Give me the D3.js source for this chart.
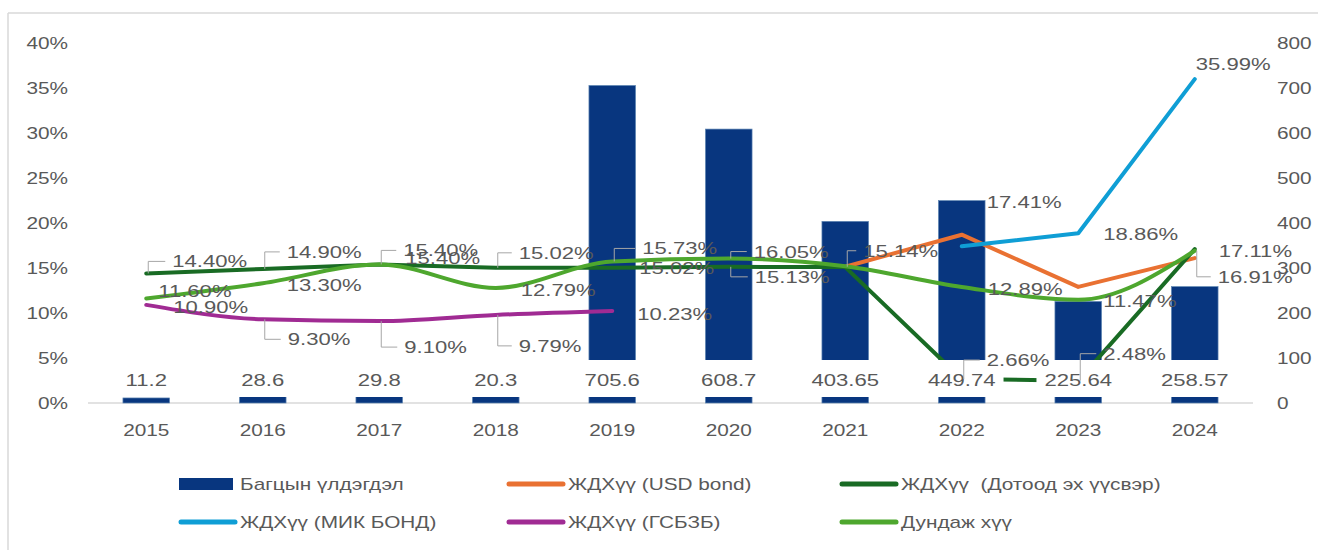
<!DOCTYPE html>
<html>
<head>
<meta charset="utf-8">
<script src="https://d3js.org/d3.v7.min.js"></script>
<style>
body { margin: 0; background: #fff; font-family: 'Liberation Sans', Arial, sans-serif; }
svg { display: block; }
svg text { white-space: pre; }
</style>
</head>
<body>
<div id="chart"></div>
<script>

// ---- data ----
var years = ["2015", "2016", "2017", "2018", "2019", "2020", "2021", "2022", "2023", "2024"];
var balance = [11.2, 28.6, 29.8, 20.3, 705.6, 608.7, 403.65, 449.74, 225.64, 258.57];
var rateUsd = [null, null, null, null, null, null, 15.14, 18.70, 12.90, 16.10];
var rateDomestic = [14.40, 14.90, 15.40, 15.02, 15.02, 15.13, 15.10, 2.66, 2.48, 17.11];
var rateMik = [null, null, null, null, null, null, null, 17.41, 18.86, 35.99];
var rateGsbzb = [10.90, 9.30, 9.10, 9.79, 10.23, null, null, null, null, null];
var rateAvg = [11.60, 13.30, 15.40, 12.79, 15.73, 16.05, 15.20, 12.89, 11.47, 16.91];
var pctTicks = [0, 5, 10, 15, 20, 25, 30, 35, 40];
var balTicks = [0, 100, 200, 300, 400, 500, 600, 700, 800];

var barName = "Багцын үлдэгдэл";
var lineSeries = [
  { key: "usd", name: "ЖДХүү (USD bond)", values: rateUsd, color: "#E97132", smooth: false },
  { key: "dom", name: "ЖДХүү  (Дотоод эх үүсвэр)", values: rateDomestic, color: "#196B24", smooth: false },
  { key: "mik", name: "ЖДХүү (МИК БОНД)", values: rateMik, color: "#0F9ED5", smooth: false },
  { key: "gsb", name: "ЖДХүү (ГСБЗБ)", values: rateGsbzb, color: "#A02B93", smooth: true },
  { key: "avg", name: "Дундаж хүү", values: rateAvg, color: "#4EA72E", smooth: true }
];

// where each visible % label sits relative to its point (layout only)
var labelPlaces = [
  { s: "dom", i: 0, dx: 26, dy: -12, lead: true },
  { s: "dom", i: 1, dx: 24, dy: -17, lead: true },
  { s: "dom", i: 2, dx: 24, dy: -14, lead: true },
  { s: "dom", i: 3, dx: 23, dy: -15, lead: true },
  { s: "dom", i: 4, dx: 27, dy: 0 },
  { s: "dom", i: 5, dx: 26, dy: 10, lead: true },
  { s: "dom", i: 7, dx: 25, dy: -19, lead: true },
  { s: "dom", i: 8, dx: 25, dy: -27, lead: true },
  { s: "dom", i: 9, dx: 24, dy: 2 },
  { s: "avg", i: 0, dx: 12, dy: -8 },
  { s: "avg", i: 1, dx: 24, dy: 2 },
  { s: "avg", i: 2, dx: 26, dy: -6 },
  { s: "avg", i: 3, dx: 25, dy: 2 },
  { s: "avg", i: 4, dx: 30, dy: -13, lead: true },
  { s: "avg", i: 5, dx: 25, dy: -7, lead: true },
  { s: "avg", i: 7, dx: 26, dy: 2 },
  { s: "avg", i: 8, dx: 25, dy: 1 },
  { s: "avg", i: 9, dx: 23, dy: 26, lead: true },
  { s: "gsb", i: 0, dx: 27, dy: 2 },
  { s: "gsb", i: 1, dx: 25, dy: 20, lead: true },
  { s: "gsb", i: 2, dx: 25, dy: 26, lead: true },
  { s: "gsb", i: 3, dx: 23, dy: 31, lead: true },
  { s: "gsb", i: 4, dx: 25, dy: 3 },
  { s: "usd", i: 6, dx: 18, dy: -16, lead: true },
  { s: "mik", i: 7, dx: 25, dy: -44 },
  { s: "mik", i: 8, dx: 25, dy: 1 },
  { s: "mik", i: 9, dx: 1, dy: -15 }
];

// ---- setup ----
var width = 1318, height = 550;
var SX = 1.3;            // text in the picture is stretched sideways
var grey = "#595959";

var svg = d3.select("#chart").append("svg")
  .attr("width", width).attr("height", height);

// frame: top and left edge only
svg.append("line").attr("x1", 8).attr("x2", width).attr("y1", 13).attr("y2", 13)
  .attr("stroke", "#d9d9d9").attr("stroke-width", 1.5);
svg.append("line").attr("x1", 8).attr("x2", 8).attr("y1", 13).attr("y2", height)
  .attr("stroke", "#d9d9d9").attr("stroke-width", 1.5);

var x = d3.scaleBand().domain(years).range([88, 1253])
  .paddingInner(0.6).paddingOuter(0.3);
var yPct = d3.scaleLinear().domain([0, 40]).range([403, 43]);
var yBal = d3.scaleLinear().domain([0, 800]).range([403, 43]);

function cx(i) { return x(years[i]) + x.bandwidth() / 2; }

function label(g, px, py, str, size, anchor) {
  return g.append("text")
    .attr("transform", "translate(" + px + "," + py + ") scale(" + SX + ",1)")
    .attr("text-anchor", anchor || "start")
    .attr("dominant-baseline", "central")
    .style("font-size", size + "px")
    .attr("fill", grey)
    .text(str);
}

// stretch the axis tick texts like the rest
function stretchTicks(g) {
  g.attr("font-family", null).attr("font-size", null);
  g.selectAll("text").each(function() {
    var t = d3.select(this);
    var tx = +t.attr("x") || 0;
    t.attr("x", 0)
      .attr("transform", "translate(" + tx + ",0) scale(" + SX + ",1)")
      .style("font-size", "16px")
      .attr("fill", grey);
  });
}

// ---- axes ----
var gL = svg.append("g").attr("transform", "translate(88,0)")
  .call(d3.axisLeft(yPct).tickValues(pctTicks).tickFormat(function(d) { return d + "%"; })
    .tickSize(0).tickPadding(20));
gL.select(".domain").remove();
stretchTicks(gL);

var gR = svg.append("g").attr("transform", "translate(1253,0)")
  .call(d3.axisRight(yBal).tickValues(balTicks).tickSize(0).tickPadding(24));
gR.select(".domain").remove();
stretchTicks(gR);

var gB = svg.append("g").attr("transform", "translate(0,403)")
  .call(d3.axisBottom(x).tickSize(0).tickPadding(22));
gB.select(".domain").remove();
stretchTicks(gB);

svg.append("line").attr("x1", 88).attr("x2", 1253).attr("y1", 403).attr("y2", 403)
  .attr("stroke", "#d9d9d9").attr("stroke-width", 1.5);

// ---- bars ----
svg.append("g").selectAll("rect")
  .data(balance)
  .enter().append("rect")
  .attr("x", function(d, i) { return x(years[i]); })
  .attr("y", function(d) { return yBal(d); })
  .attr("width", x.bandwidth())
  .attr("height", function(d) { return yBal(0) - yBal(d); })
  .attr("fill", "#08367F")
  .attr("stroke", "#5f86b3")
  .attr("stroke-width", 0.7);

// ---- lines ----
lineSeries.forEach(function(s) {
  var line = d3.line()
    .defined(function(d) { return d != null; })
    .x(function(d, i) { return cx(i); })
    .y(function(d) { return yPct(d); })
    .curve(s.smooth ? d3.curveMonotoneX : d3.curveLinear);
  svg.append("path")
    .datum(s.values)
    .attr("d", line)
    .attr("fill", "none")
    .attr("stroke", s.color)
    .attr("stroke-width", 4)
    .attr("stroke-linejoin", "round")
    .attr("stroke-linecap", "round");
});

// ---- bar value labels (white boxes, they hide what is under them) ----
var barLab = svg.append("g");
balance.forEach(function(v, i) {
  var g = barLab.append("g");
  var r = g.append("rect");
  var t = label(g, cx(i), 380, String(v), 17, "middle");
  var w = t.node().getComputedTextLength() * SX;
  r.attr("x", cx(i) - w / 2 - 8).attr("y", 360)
    .attr("width", w + 16).attr("height", 37)
    .attr("fill", "#fff");
});

// ---- % labels with leader lines ----
var byKey = {};
lineSeries.forEach(function(s) { byKey[s.key] = s; });
var pctLab = svg.append("g");
labelPlaces.forEach(function(p) {
  var v = byKey[p.s].values[p.i];
  var px = cx(p.i), py = yPct(v);
  var tx = px + p.dx, ty = py + p.dy;
  if (p.lead) {
    var lx = px + 2;
    pctLab.append("path")
      .attr("d", "M" + lx + "," + py + "L" + lx + "," + ty + "L" + (tx - 7) + "," + ty)
      .attr("fill", "none")
      .attr("stroke", "#a6a6a6")
      .attr("stroke-width", 1);
  }
  label(pctLab, tx, ty, v.toFixed(2) + "%", 17, "start");
});

// ---- legend ----
var legendItems = [
  { name: barName, color: "#08367F", bar: true, lx: 179, ly: 484 },
  { name: lineSeries[0].name, color: lineSeries[0].color, lx: 507, ly: 484 },
  { name: lineSeries[1].name, color: lineSeries[1].color, lx: 840, ly: 484 },
  { name: lineSeries[2].name, color: lineSeries[2].color, lx: 179, ly: 522 },
  { name: lineSeries[3].name, color: lineSeries[3].color, lx: 507, ly: 522 },
  { name: lineSeries[4].name, color: lineSeries[4].color, lx: 840, ly: 522 }
];
var leg = svg.append("g");
legendItems.forEach(function(d) {
  if (d.bar) {
    leg.append("rect").attr("x", d.lx).attr("y", d.ly - 6)
      .attr("width", 54).attr("height", 12).attr("fill", d.color);
  } else {
    leg.append("line").attr("x1", d.lx + 2).attr("x2", d.lx + 56)
      .attr("y1", d.ly).attr("y2", d.ly)
      .attr("stroke", d.color).attr("stroke-width", 5)
      .attr("stroke-linecap", "round");
  }
  label(leg, d.lx + 61, d.ly, d.name, 16, "start");
});

</script>
</body>
</html>
